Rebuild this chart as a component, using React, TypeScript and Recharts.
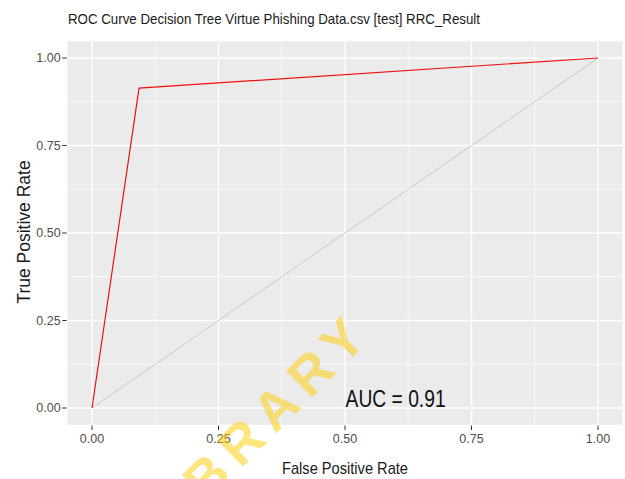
import React from 'react';
import { LineChart, Line, XAxis, YAxis, CartesianGrid, ReferenceLine, ReferenceDot } from 'recharts';

const rocCurve = [
  { x: 0, y: 0 },
  { x: 0.093, y: 0.914 },
  { x: 1, y: 1 },
];
const diagonal = [
  { x: 0, y: 0 },
  { x: 1, y: 1 },
];
const majorTicks = [0, 0.25, 0.5, 0.75, 1];
const minorTicks = [0.125, 0.375, 0.625, 0.875];
const titleText = 'ROC Curve Decision Tree Virtue Phishing Data.csv [test] RRC_Result';
const xLabel = 'False Positive Rate';
const yLabel = 'True Positive Rate';
const aucText = 'AUC = 0.91';
const aucPos = { x: 0.6, y: 0.025 };
const watermark = 'LIBRARY';

const W = 625;
const H = 479;
const sans = '"Liberation Sans", Arial, sans-serif';

const renderAuc = (props: any) => {
  const vb = props.viewBox || {};
  const cx = (vb.x ?? 0) + (vb.width ?? 0) / 2;
  const cy = (vb.y ?? 0) + (vb.height ?? 0) / 2;
  return (
    <text
      x={cx}
      y={cy + 8}
      textAnchor="middle"
      fontSize={23}
      fill="#111111"
      fontFamily={sans}
      textLength={100}
      lengthAdjust="spacingAndGlyphs"
    >
      {aucText}
    </text>
  );
};

export default function App() {
  return (
    <div style={{ position: 'absolute', left: 0, top: 0, width: W, height: H, background: '#fff' }}>
      <LineChart
        width={W}
        height={H}
        margin={{ top: 40.5, right: 1.7, bottom: 23.5, left: 0 }}
      >
        <CartesianGrid
          fill="#EBEBEB"
          stroke="#FFFFFF"
          strokeWidth={1.3}
          strokeDasharray=""
          horizontal
          vertical
        />
        {minorTicks.map((t) => (
          <ReferenceLine key={'vx' + t} x={t} stroke="#FFFFFF" strokeWidth={0.6} />
        ))}
        {minorTicks.map((t) => (
          <ReferenceLine key={'hy' + t} y={t} stroke="#FFFFFF" strokeWidth={0.6} />
        ))}
        <XAxis
          type="number"
          dataKey="x"
          domain={[-0.05, 1.05]}
          ticks={majorTicks}
          allowDataOverflow
          height={30}
          axisLine={false}
          tickLine={{ stroke: '#333333', strokeWidth: 1 }}
          tickSize={4.5}
          tickMargin={4.5}
          tickFormatter={(v: number) => v.toFixed(2)}
          tick={{ fill: '#4D4D4D', fontSize: 12.5, fontFamily: sans }}
        />
        <YAxis
          type="number"
          dataKey="y"
          domain={[-0.05, 1.05]}
          ticks={majorTicks}
          allowDataOverflow
          width={66.7}
          axisLine={false}
          tickLine={{ stroke: '#333333', strokeWidth: 1 }}
          tickSize={4.5}
          tickMargin={1.5}
          tickFormatter={(v: number) => v.toFixed(2)}
          tick={{ fill: '#4D4D4D', fontSize: 12.5, fontFamily: sans }}
        />
        <Line
          data={diagonal}
          dataKey="y"
          stroke="#C4C4C4"
          strokeWidth={0.9}
          dot={false}
          isAnimationActive={false}
          type="linear"
        />
        <Line
          data={rocCurve}
          dataKey="y"
          stroke="#F01010"
          strokeWidth={1.2}
          dot={false}
          isAnimationActive={false}
          type="linear"
        />
        <ReferenceDot
          x={aucPos.x}
          y={aucPos.y}
          r={1}
          fill="none"
          stroke="none"
          label={renderAuc}
        />
      </LineChart>
      <svg
        width={W}
        height={H}
        style={{ position: 'absolute', left: 0, top: 0, pointerEvents: 'none' }}
      >
        <text
          x={68}
          y={23.5}
          fontSize={14.5}
          fill="#1A1A1A"
          fontFamily={sans}
          textLength={412}
          lengthAdjust="spacingAndGlyphs"
        >
          {titleText}
        </text>
        <text
          x={345}
          y={473.5}
          fontSize={17}
          fill="#1A1A1A"
          fontFamily={sans}
          textAnchor="middle"
          textLength={126}
          lengthAdjust="spacingAndGlyphs"
        >
          {xLabel}
        </text>
        <text
          x={0}
          y={0}
          transform="translate(30.3,232) rotate(-90)"
          fontSize={17.5}
          fill="#1A1A1A"
          fontFamily={sans}
          textAnchor="middle"
        >
          {yLabel}
        </text>
        <text
          x={0}
          y={0}
          transform="translate(375.5,334) rotate(-45)"
          fontSize={54}
          fontWeight="bold"
          textAnchor="end"
          style={{ letterSpacing: '10px' }}
          fill="#FFCC00"
          fillOpacity={0.5}
          fontFamily={sans}
        >
          {watermark}
        </text>
      </svg>
    </div>
  );
}
